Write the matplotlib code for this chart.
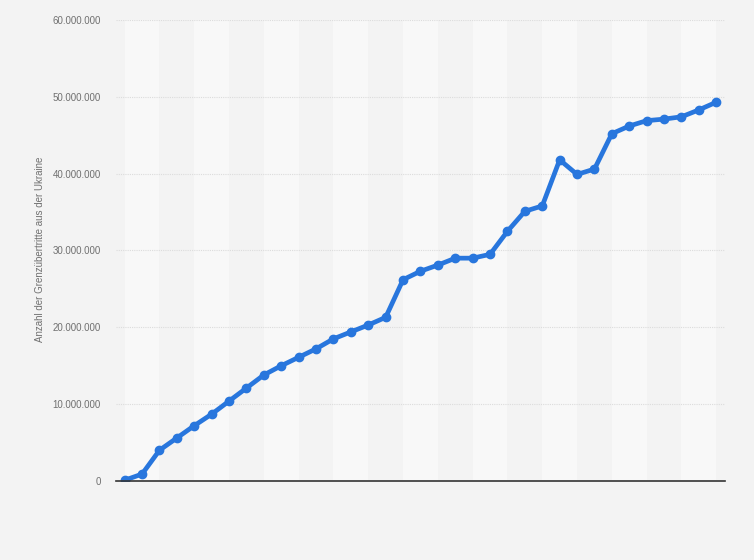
import matplotlib
matplotlib.use("Agg")
import matplotlib.pyplot as plt
from matplotlib.ticker import FuncFormatter

# Grenzübertritte aus der Ukraine (kumuliert), 35 Zeitpunkte
crossings = [
    0.1, 0.9, 4.0, 5.6, 7.2, 8.7, 10.4, 12.1, 13.8, 15.0,
    16.1, 17.2, 18.5, 19.4, 20.3, 21.3, 26.2, 27.3, 28.1, 29.0,
    29.0, 29.5, 32.5, 35.1, 35.8, 41.8, 39.9, 40.6, 45.2, 46.2,
    46.9, 47.1, 47.4, 48.3, 49.3,
]
crossings = [v * 1_000_000 for v in crossings]
y_ticks = [0, 10_000_000, 20_000_000, 30_000_000, 40_000_000, 50_000_000, 60_000_000]
y_label = "Anzahl der Grenzübertritte aus der Ukraine"

plt.rcParams["font.family"] = ["Liberation Sans", "DejaVu Sans"]

fig = plt.figure(figsize=(7.54, 5.6), dpi=100, facecolor="#f3f3f3")
ax = fig.add_axes([0.1538, 0.1411, 0.8077, 0.8232])
ax.set_facecolor("#f3f3f3")

x = list(range(len(crossings)))

# alternating light column bands
for start in range(0, len(crossings) - 1, 4):
    ax.axvspan(start, start + 2, color="#f8f8f8", zorder=0, lw=0)

for t in y_ticks[1:]:
    ax.axhline(t, color="#dcdcdc", lw=0.8, ls=(0, (1, 1)), zorder=1)

ax.plot(x, crossings, color="#2876dd", lw=3.4, marker="o", ms=6,
        solid_capstyle="round", solid_joinstyle="round", zorder=3)

ax.set_xlim(-0.5, 34.5)
ax.set_ylim(0, 60_000_000)
ax.set_yticks(y_ticks)
ax.yaxis.set_major_formatter(FuncFormatter(lambda v, p: f"{int(v):,}".replace(",", ".")))
ax.tick_params(axis="y", length=0, pad=11, labelsize=7, labelcolor="#707070")
ax.set_xticks([])

for side in ("top", "right", "left"):
    ax.spines[side].set_visible(False)
ax.spines["bottom"].set_color("#333333")
ax.spines["bottom"].set_linewidth(1.2)
ax.spines["bottom"].set_zorder(4)

fig.text(0.053, 0.555, y_label, rotation=90, ha="center", va="center",
         fontsize=7, color="#707070")

fig.savefig("out.png", dpi=100, facecolor=fig.get_facecolor())
